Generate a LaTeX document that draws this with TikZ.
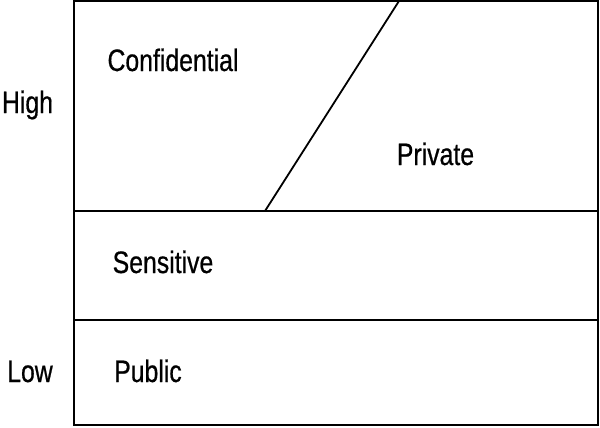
\documentclass[tikz,border=0pt]{standalone}
\usepackage{fontspec}
\setmainfont{Liberation Sans}[FakeStretch=0.8, FakeBold=0.6]
\begin{document}
\begin{tikzpicture}[x=1bp,y=-1bp,
  frame/.style={line width=1.8bp, draw=black},
  lbl/.style={anchor=base, inner sep=0pt, font=\fontsize{31bp}{33bp}\selectfont}]
\useasboundingbox (0,0) rectangle (600,427);
% classification grid
\draw[frame] (74,1) rectangle (598,425);
\draw[frame] (74,211) -- (598,211);
\draw[frame] (74,320) -- (598,320);
\draw[frame] (265,211) -- (399,1);
% region labels
\node[lbl] (conf) at (173,71) {Confidential};
\node[lbl] (priv) at (435.5,165) {Private};
\node[lbl] (sens) at (163,273) {Sensitive};
\node[lbl] (pub) at (148,382) {Public};
% scale labels
\node[lbl] (high) at (27.5,113) {High};
\node[lbl] (low) at (30,382) {Low};
\end{tikzpicture}
\end{document}
